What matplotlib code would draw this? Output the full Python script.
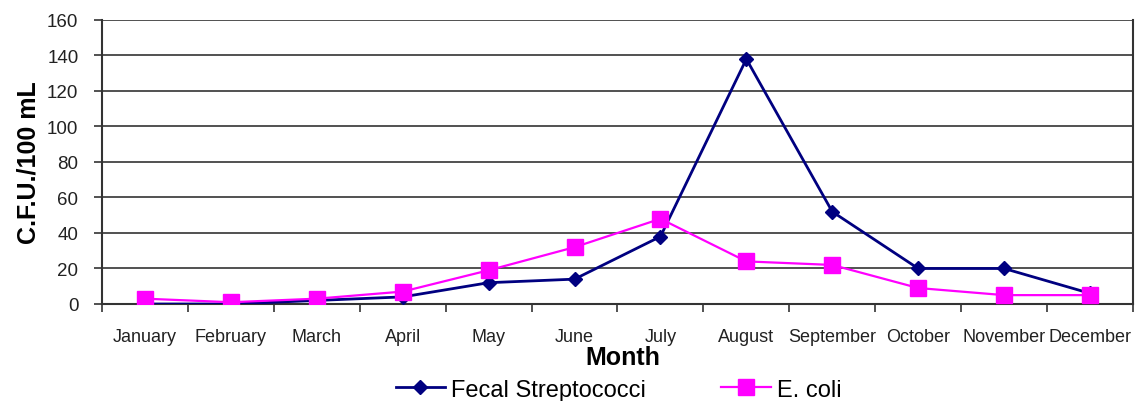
import matplotlib
matplotlib.use("Agg")
import matplotlib.pyplot as plt
from matplotlib.ticker import FixedLocator, NullFormatter

plt.rcParams['font.family'] = ['Liberation Sans', 'DejaVu Sans']

months = ["January", "February", "March", "April", "May", "June", "July",
          "August", "September", "October", "November", "December"]
fecal_strep = [0, 0, 2, 4, 12, 14, 38, 138, 52, 20, 20, 6]
e_coli = [3, 1, 3, 7, 19, 32, 48, 24, 22, 9, 5, 5]
y_ticks = [0, 20, 40, 60, 80, 100, 120, 140, 160]

fig = plt.figure(figsize=(11.35, 4.02), dpi=100)
ax = fig.add_axes([0.0899, 0.2413, 0.9083, 0.7065])

x = list(range(len(months)))
l1, = ax.plot(x, fecal_strep, color="#000080", lw=2, marker="D", ms=7,
              label="Fecal Streptococci", zorder=3)
l2, = ax.plot(x, e_coli, color="#FF00FF", lw=1.6, marker="s", ms=11,
              label="E. coli", zorder=4)

ax.set_xlim(-0.5, len(months) - 0.5)
ax.set_ylim(0, 160)
ax.set_yticks(y_ticks)
ax.yaxis.grid(True, color="#333333", lw=1.2)
ax.set_axisbelow(True)

ax.set_xticks(x)
ax.set_xticklabels(months, fontsize=13, color="#222222")
ax.tick_params(axis="x", which="major", length=0, pad=17)
ax.xaxis.set_minor_locator(FixedLocator([i + 0.5 for i in range(-1, len(months))]))
ax.xaxis.set_minor_formatter(NullFormatter())
ax.tick_params(axis="x", which="minor", length=6, width=1.2, color="#333333")
ax.tick_params(axis="y", length=6, width=1.2, color="#333333", pad=11,
               labelsize=13.5, labelcolor="#222222")

for side in ["left", "bottom", "right"]:
    ax.spines[side].set_color("#333333")
    ax.spines[side].set_linewidth(1.5)
ax.spines["top"].set_visible(False)

ax.set_ylabel("C.F.U./100 mL", fontsize=18, fontweight="bold", labelpad=5)
ax.set_xlabel("Month", fontsize=18, fontweight="bold")
ax.xaxis.set_label_coords(0.505, -0.145)

fig.legend(handles=[l1, l2], loc="center", bbox_to_anchor=(0.545, 0.028),
           ncol=2, frameon=False, fontsize=17, columnspacing=3.2,
           handlelength=2.1, handletextpad=0.25, borderpad=0)

fig.savefig("out.png", dpi=100)
